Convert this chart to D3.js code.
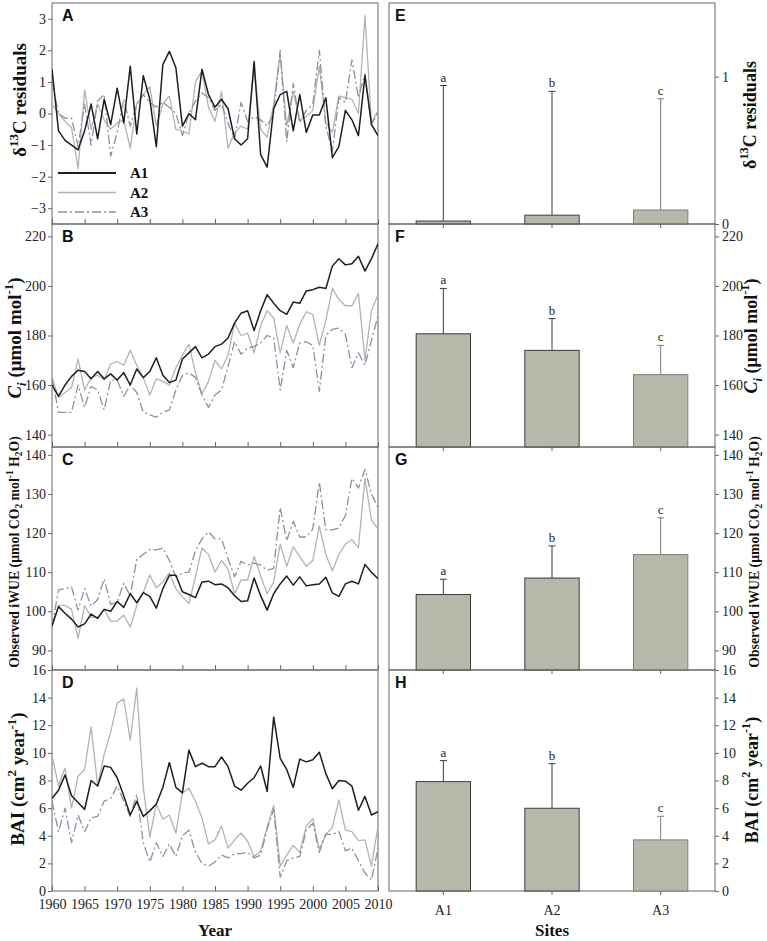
<!DOCTYPE html>
<html><head><meta charset="utf-8">
<script src="https://cdn.jsdelivr.net/npm/d3@7"></script>
<style>body{margin:0;background:#fff}svg{display:block}</style>
</head><body>
<svg id="chart" width="767" height="941"></svg>
<script>
// ---------------- DATA ----------------
const years = d3.range(1960, 2011);
const sites = ["A1", "A2", "A3"];
const yearTicks = [1960,1965,1970,1975,1980,1985,1990,1995,2000,2005,2010];

// Panel A: d13C residuals
const d13cA1 = [1.4,-0.55,-0.85,-1.0,-1.15,-0.55,0.3,-0.8,0.45,-0.35,0.8,-0.3,1.5,-0.65,1.2,0.45,-1.05,1.55,1.97,1.45,-0.4,0.0,-0.2,1.4,0.6,0.2,0.45,0.15,-0.8,-1.0,-0.8,1.65,-1.3,-1.7,0.15,0.6,0.7,-0.55,0.6,-0.6,-0.05,-0.05,0.5,-1.4,-1.05,0.1,-0.2,-0.7,1.2,-0.35,-0.7];
const d13cA2 = [0.3,0.0,-0.25,-0.45,-1.75,0.75,-0.5,0.3,-0.2,-0.5,-0.3,-0.2,-1.1,0.3,0.6,0.85,-0.4,0.3,0.55,-0.5,-0.55,-0.65,1.0,1.35,0.2,-0.25,0.7,-1.1,-0.6,-0.4,-0.5,1.4,-0.5,-0.75,0.3,1.9,-0.4,0.7,-0.2,-0.1,0.1,1.5,-0.3,-0.6,0.55,0.5,0.45,0.0,3.1,-0.3,0.1];
const d13cA3 = [1.0,0.0,-0.15,-0.15,-1.05,0.3,-1.0,0.4,0.6,-1.35,-0.6,0.45,-0.4,0.3,0.6,0.35,0.2,0.35,0.2,0.0,-0.7,0.0,0.4,0.65,0.5,0.1,0.3,-0.3,-0.8,0.35,-0.25,-0.1,-0.2,-0.4,0.0,2.0,-0.9,0.95,-0.3,0.1,0.3,2.0,-0.4,-1.2,0.5,0.35,1.7,0.5,1.25,-0.35,0.05];

// Panel B: Ci
const ciA1 = [160,155.5,160,163.5,166,165.5,162.5,165.5,162.5,164.5,162,165,160,166.5,163,165.5,171,164,161,162,170.5,173,175.5,171,172.5,175.5,176.5,179,185,189,190,182,190,196.5,193,190,188.5,193.5,193,198,198.5,199.5,199,208,211,208.5,209,212,206,211,217];
const ciA2 = [163,155,157,159,170.5,158,163,164,162,168.5,169.5,168,174,168,163,156,162.5,161.5,160,167,172,176.5,165,156.5,161.5,170,166.5,172,185,180,181,173,184,190,187,173,184,177,184.5,189.5,188.5,176,186,199,194.5,192,192,197,170,190,196.5];
const ciA3 = [163,149,149,149,160,151,159.5,158,150,162,162,155.5,160,157,149,148,147,149,150,158,164,165,163,156,151,156,158,167.5,177.5,172.5,175,175.5,177,180,179,158,174,167,177,177.5,176,157.5,180,182.5,183,180.5,167,173,168,178,188];

// Panel C: observed iWUE
const wueA1 = [96.3,101.2,99.5,98,96,96.8,99.3,98.2,100.5,100,102.5,101,104.5,102.2,104.8,103.8,100.8,105.8,109.2,109.2,105,104.3,103.5,107.5,107.7,106.8,107,106,104,102.5,102.7,108.5,104,100.3,104.5,107,109,106.7,108.8,106.5,106.8,107,108.7,104.7,103.8,107,107.7,107,112,110,108.3];
const wueA2 = [96,101.5,101.5,100.5,93,101.5,98.5,98.5,100.5,97.5,97.5,99,96,101.5,104.8,109.3,106,107.5,109.8,105.8,103.7,102,108.8,116.2,114.5,110,113,110.8,104.5,108,108,114,109,104.5,107.5,117.2,111.5,116.5,114,111.5,113,121.8,114.5,110.3,114.5,117.2,118.3,116.3,134,123.3,121];
const wueA3 = [96,105.5,105.8,106.2,100.3,105.8,101.3,103,108.3,101.8,102.3,107.2,104,113.3,114.5,115.8,115.7,116.2,113,108.8,109.8,110,115.5,118.5,120.3,118.5,118.5,113.5,108.8,112.8,111.8,112.3,111.8,110.5,111,126.5,118,123,119,119,121,133,120.8,120.8,121.3,124.5,134,131.5,136.3,130,126.5];

// Panel D: BAI
const baiA1 = [6.7,7.3,8.4,6.9,6.4,5.9,8.0,7.6,9.05,8.95,8.2,6.9,5.5,6.5,5.4,5.8,6.3,7.5,9.3,7.5,7.1,10.2,9.0,9.25,9.0,9.0,9.7,9.0,7.6,7.3,7.8,8.2,9.05,7.2,12.6,9.6,8.8,7.5,9.55,9.35,9.5,10.05,8.5,7.4,8.0,7.95,7.6,5.85,6.85,5.5,5.75];
const baiA2 = [9.8,7.6,8.9,6.0,8.3,8.8,11.9,7.6,9.9,11.5,13.6,13.9,10.9,14.7,7.5,3.9,6.3,5.2,5.5,4.2,7.1,7.45,6.5,5.3,3.4,3.7,4.7,3.1,3.7,4.2,3.6,2.5,2.9,4.6,6.2,1.8,2.6,3.3,2.8,4.7,5.25,3.0,4.1,4.6,6.6,4.4,4.3,3.65,3.7,1.8,4.7];
const baiA3 = [6.5,4.3,6.0,3.5,5.5,4.3,5.3,5.4,6.5,6.7,7.6,6.5,5.4,7.0,3.5,2.1,3.5,2.5,3.4,2.5,4.0,4.4,2.8,2.0,1.8,2.1,2.6,2.4,2.7,2.7,2.8,2.4,2.6,4.5,5.9,1.0,2.2,2.4,2.5,4.4,4.9,2.8,4.1,4.1,4.3,2.9,3.1,2.2,1.3,0.8,3.1];

// Site means and standard deviations (bars E-H)
const meanD13c = [0.02, 0.06, 0.095];
const sdD13c   = [0.92, 0.84, 0.755];
const meanCi   = [180.7, 174.0, 164.2];
const sdCi     = [18.3, 12.8, 11.8];
const meanWue  = [104.3, 108.5, 114.5];
const sdWue    = [3.9, 8.2, 9.4];
const meanBai  = [7.92, 5.99, 3.70];
const sdBai    = [1.52, 3.23, 1.71];
const sigLetters = ["a", "b", "c"];

// ---------------- LAYOUT ----------------
const svg = d3.select("#chart");
const LX = [52, 378], RX = [389, 715];
const rows = [
  {top: 3,   bot: 224, dom: [-3.5, 3.5], ticks: [-3,-2,-1,0,1,2,3], rticks: [0,1], rdom: [0, 1.5],
   series: [d13cA1, d13cA2, d13cA3], mean: meanD13c, sd: sdD13c, L: "A", R: "E",
   title: [{t:"δ"},{t:"13",s:"sup"},{t:"C  residuals"}], fs: 19, rfs: 18, lc: 100, rc: 115, lx: 20, rx: 751},
  {top: 224, bot: 447, dom: [135, 225], ticks: [140,160,180,200,220], rticks: [140,160,180,200,220], rdom: [135, 225],
   series: [ciA1, ciA2, ciA3], mean: meanCi, sd: sdCi, L: "B", R: "F",
   title: [{t:"C",i:1},{t:"i",s:"sub",i:1},{t:" (μmol mol"},{t:"-1",s:"sup"},{t:")"}], fs: 19, rfs: 18, lc: 338, rc: 336, lx: 15, rx: 752},
  {top: 447, bot: 670, dom: [85, 142], ticks: [90,100,110,120,130,140], rticks: [90,100,110,120,130,140], rdom: [85, 142],
   series: [wueA1, wueA2, wueA3], mean: meanWue, sd: sdWue, L: "C", R: "G",
   title: [{t:"Observed iWUE (μmol CO"},{t:"2",s:"sub"},{t:" mol"},{t:"-1",s:"sup"},{t:" H"},{t:"2",s:"sub"},{t:"O)"}], fs: 13.8, rfs: 13.8, lc: 552, rc: 552, lx: 13, rx: 754},
  {top: 670, bot: 891, dom: [0, 16], ticks: [0,2,4,6,8,10,12,14,16], rticks: [0,2,4,6,8,10,12,14,16], rdom: [0, 16],
   series: [baiA1, baiA2, baiA3], mean: meanBai, sd: sdBai, L: "D", R: "H",
   title: [{t:"BAI (cm"},{t:"2",s:"sup"},{t:" year"},{t:"-1",s:"sup"},{t:")"}], fs: 19, rfs: 18, lc: 779, rc: 780, lx: 18, rx: 753}
];

const lineStyles = [
  {stroke: "#1e1e1e", w: 1.5, dash: null},
  {stroke: "#b3b3b3", w: 1.3, dash: null},
  {stroke: "#8e8ea6", w: 1.3, dash: "9,3,2,3"}
];
const barStroke = ["#3c3c3c", "#3c3c3c", "#7d7d7d"];
const serif = "'Liberation Serif','Times New Roman',serif";
const sans = "'Liberation Sans',Arial,sans-serif";
const axisCol = "#666";

const x = d3.scaleLinear().domain([1960, 2010]).range(LX);
const xb = d3.scaleBand().domain(sites).range(RX).paddingInner(0.5).paddingOuter(0.25);

function styleAxis(g, fontSize) {
  g.select(".domain").remove();
  g.selectAll(".tick line").attr("stroke", axisCol);
  g.selectAll(".tick text").attr("fill", "#222").style("font-family", serif).style("font-size", fontSize + "px");
}

function richTitle(g, parts, fs) {
  const t = g.append("text").attr("text-anchor", "middle")
    .style("font-family", serif).style("font-weight", "bold").style("font-size", fs + "px").attr("fill", "#111");
  let cur = 0;
  parts.forEach(p => {
    let target = 0, size = fs;
    if (p.s === "sup") { target = -0.42 * fs; size = fs * 0.68; }
    if (p.s === "sub") { target = 0.25 * fs; size = fs * 0.68; }
    const ts = t.append("tspan").text(p.t).attr("dy", (target - cur).toFixed(2)).style("font-size", size + "px");
    if (p.i) ts.style("font-style", "italic");
    cur = target;
  });
}

rows.forEach((r, ri) => {
  const y = d3.scaleLinear().domain(r.dom).range([r.bot, r.top]);
  const yr = d3.scaleLinear().domain(r.rdom).range([r.bot, r.top]);
  const isLast = ri === rows.length - 1;

  // ---- Left time-series panel ----
  const gl = svg.append("g");
  gl.append("rect").attr("x", LX[0]).attr("y", r.top).attr("width", LX[1] - LX[0]).attr("height", r.bot - r.top)
    .attr("fill", "none").attr("stroke", axisCol).attr("stroke-width", 1);

  const clipId = "clip" + ri;
  svg.append("clipPath").attr("id", clipId).append("rect")
    .attr("x", LX[0]).attr("y", r.top).attr("width", LX[1] - LX[0]).attr("height", r.bot - r.top);

  const line = d3.line().x((d, i) => x(years[i])).y(d => y(d));
  const order = [1, 2, 0];
  order.forEach(si => {
    const st = lineStyles[si];
    gl.append("path").datum(r.series[si]).attr("d", line).attr("fill", "none")
      .attr("stroke", st.stroke).attr("stroke-width", st.w).attr("stroke-linejoin", "round")
      .attr("stroke-dasharray", st.dash).attr("clip-path", `url(#${clipId})`);
  });

  const ay = gl.append("g").attr("transform", `translate(${LX[0]},0)`)
    .call(d3.axisLeft(y).tickValues(r.ticks).tickSize(4).tickPadding(2).tickFormat(d3.format("d")));
  styleAxis(ay, 14);

  const ax = gl.append("g").attr("transform", `translate(0,${r.bot})`)
    .call(d3.axisBottom(x).tickValues(yearTicks).tickSizeInner(-5).tickSizeOuter(0).tickPadding(8).tickFormat(d3.format("d")));
  styleAxis(ax, 14);
  if (!isLast) ax.selectAll(".tick text").remove();

  gl.append("text").attr("x", LX[0] + 10).attr("y", r.top + 18).text(r.L)
    .style("font-family", sans).style("font-weight", "bold").style("font-size", "16px").attr("fill", "#111");

  richTitle(gl.append("g").attr("transform", `translate(${r.lx + 6},${r.lc}) rotate(-90)`), r.title, r.fs);

  // ---- Right bar panel ----
  const gr = svg.append("g");
  gr.append("rect").attr("x", RX[0]).attr("y", r.top).attr("width", RX[1] - RX[0]).attr("height", r.bot - r.top)
    .attr("fill", "none").attr("stroke", axisCol).attr("stroke-width", 1);

  const bars = sites.map((s, i) => ({s, m: r.mean[i], e: r.sd[i], l: sigLetters[i], i}));
  const eb = gr.selectAll("g.eb").data(bars).join("g");
  eb.append("line").attr("x1", d => xb(d.s) + xb.bandwidth() / 2).attr("x2", d => xb(d.s) + xb.bandwidth() / 2)
    .attr("y1", d => yr(d.m)).attr("y2", d => yr(d.m + d.e)).attr("stroke", d => barStroke[d.i]).attr("stroke-width", 1);
  eb.append("line").attr("x1", d => xb(d.s) + xb.bandwidth() / 2 - 3.5).attr("x2", d => xb(d.s) + xb.bandwidth() / 2 + 3.5)
    .attr("y1", d => yr(d.m + d.e)).attr("y2", d => yr(d.m + d.e)).attr("stroke", d => barStroke[d.i]).attr("stroke-width", 1);
  eb.append("text").attr("x", d => xb(d.s) + xb.bandwidth() / 2).attr("y", d => yr(d.m + d.e) - 4)
    .attr("text-anchor", "middle").text(d => d.l)
    .style("font-family", serif).style("font-size", "13px").attr("fill", "#222");
  gr.selectAll("rect.bar").data(bars).join("rect").attr("class", "bar")
    .attr("x", d => xb(d.s)).attr("width", xb.bandwidth())
    .attr("y", d => yr(d.m)).attr("height", d => r.bot - yr(d.m))
    .attr("fill", "#b8b8aa").attr("stroke", d => barStroke[d.i]).attr("stroke-width", 1);

  const ary = gr.append("g").attr("transform", `translate(${RX[1]},0)`)
    .call(d3.axisRight(yr).tickValues(r.rticks).tickSize(4).tickPadding(3).tickFormat(d3.format("d")));
  styleAxis(ary, 14);

  const arx = gr.append("g").attr("transform", `translate(0,${r.bot})`)
    .call(d3.axisBottom(xb).tickSizeInner(4).tickSizeOuter(0).tickPadding(10));
  styleAxis(arx, 14);
  if (!isLast) arx.selectAll(".tick text").remove();

  gr.append("text").attr("x", RX[0] + 6).attr("y", r.top + 18).text(r.R)
    .style("font-family", sans).style("font-weight", "bold").style("font-size", "16px").attr("fill", "#111");

  richTitle(gr.append("g").attr("transform", `translate(${r.rx + 5},${r.rc}) rotate(-90)`), r.title, r.rfs);
});

// ---- Legend (panel A) ----
const leg = svg.append("g");
const legY = [173, 192.5, 212];
sites.forEach((s, i) => {
  const st = lineStyles[i];
  leg.append("line").attr("x1", 58).attr("x2", 116).attr("y1", legY[i]).attr("y2", legY[i])
    .attr("stroke", st.stroke).attr("stroke-width", st.w + 0.3).attr("stroke-dasharray", st.dash);
  leg.append("text").attr("x", 130).attr("y", legY[i] + 5).text(s)
    .style("font-family", serif).style("font-weight", "bold").style("font-size", "15px").attr("fill", "#111");
});

// ---- Axis titles ----
svg.append("text").attr("x", 215).attr("y", 936).attr("text-anchor", "middle").text("Year")
  .style("font-family", serif).style("font-weight", "bold").style("font-size", "17px").attr("fill", "#111");
svg.append("text").attr("x", 552).attr("y", 936).attr("text-anchor", "middle").text("Sites")
  .style("font-family", serif).style("font-weight", "bold").style("font-size", "17px").attr("fill", "#111");
</script>
</body></html>
